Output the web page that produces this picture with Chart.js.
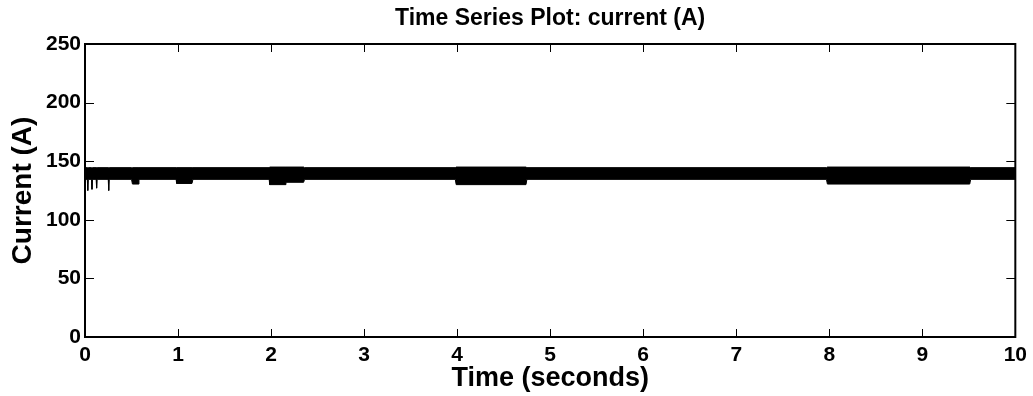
<!DOCTYPE html>
<html>
<head>
<meta charset="utf-8">
<script src="https://cdn.jsdelivr.net/npm/chart.js@4.4.1/dist/chart.umd.min.js"></script>
<style>
  html, body { margin: 0; padding: 0; background: #fff; }
  #wrap { width: 1033px; height: 396px; }
</style>
</head>
<body>
<div id="wrap"><canvas id="c" width="1033" height="396"></canvas></div>
<script>
// Envelope of the (dense) current signal
const time  = [0, 0.025, 0.03, 0.035, 0.07, 0.075, 0.08, 0.12, 0.125, 0.13, 0.25, 0.255, 0.26,
               0.50, 0.51, 0.57, 0.58, 0.98, 0.985, 1.15, 1.16,
               1.98, 1.985, 2.15, 2.16, 2.35, 2.36,
               3.98, 3.99, 4.74, 4.75, 7.97, 7.98, 9.51, 9.52, 10];
const lower = [134.5, 134.5, 125, 134.5, 134.5, 126, 134.5, 134.5, 127, 134.5, 134.5, 125, 134.5,
               134.5, 130.5, 130.5, 134.5, 134.5, 131, 131, 134.5,
               134.5, 130, 130, 132, 132, 134.5,
               134.5, 130, 130, 134.5, 134.5, 130.5, 130.5, 134.5, 134.5];
const upper = [144.5, 144.5, 144.5, 144.5, 144.5, 144.5, 144.5, 144.5, 144.5, 144.5, 144.5, 144.5, 144.5,
               144.5, 144.5, 144.5, 144.5, 144.5, 144.5, 144.5, 144.5,
               144.5, 145, 145, 145, 145, 144.5,
               144.5, 145, 145, 144.5, 144.5, 145, 145, 144.5, 144.5];
const xTicks = [0, 1, 2, 3, 4, 5, 6, 7, 8, 9, 10];
const yTicks = [0, 50, 100, 150, 200, 250];

const FONT = "'Liberation Sans', Arial, Helvetica, sans-serif";

const toPts = (ys) => time.map((t, i) => ({ x: t, y: ys[i] }));

const boxTicks = {
  id: 'boxTicks',
  afterDatasetsDraw(chart) {
    const { ctx, chartArea: a, scales } = chart;
    ctx.save();
    ctx.strokeStyle = '#000';
    ctx.lineWidth = 1;
    ctx.beginPath();
    xTicks.forEach(v => {
      const px = Math.round(scales.x.getPixelForValue(v)) + 0.5;
      ctx.moveTo(px, a.bottom); ctx.lineTo(px, a.bottom - 8);
      ctx.moveTo(px, a.top); ctx.lineTo(px, a.top + 8);
    });
    yTicks.forEach(v => {
      const py = Math.round(scales.y.getPixelForValue(v)) + 0.5;
      ctx.moveTo(a.left, py); ctx.lineTo(a.left + 9, py);
      ctx.moveTo(a.right, py); ctx.lineTo(a.right - 9, py);
    });
    ctx.stroke();
    ctx.lineWidth = 2;
    ctx.strokeRect(a.left, a.top, a.right - a.left, a.bottom - a.top);
    ctx.restore();
  }
};

new Chart(document.getElementById('c'), {
  type: 'line',
  data: {
    datasets: [
      { data: toPts(upper), borderColor: '#000', borderWidth: 1, pointRadius: 0, fill: false, tension: 0 },
      { data: toPts(lower), borderColor: '#000', borderWidth: 1, pointRadius: 0, fill: '-1',
        backgroundColor: '#000', tension: 0 }
    ]
  },
  options: {
    responsive: false,
    animation: false,
    layout: { padding: { left: 0, right: 14, top: 0, bottom: 0 } },
    plugins: {
      legend: { display: false },
      tooltip: { enabled: false },
      title: {
        display: true,
        fullSize: false,
        text: 'Time Series Plot: current (A)',
        color: '#000',
        font: { family: FONT, size: 23, weight: 'bold', lineHeight: 1.2 },
        padding: { top: 5, bottom: 11.4 }
      }
    },
    scales: {
      x: {
        type: 'linear',
        min: 0, max: 10,
        afterBuildTicks: s => { s.ticks = xTicks.map(v => ({ value: v })); },
        afterFit: s => { s.height = 59; },
        grid: { display: false, drawTicks: false },
        border: { display: false },
        ticks: { color: '#000', padding: 6, maxRotation: 0, autoSkip: false,
                 font: { family: FONT, size: 21, weight: 'bold' } },
        title: { display: true, text: 'Time (seconds)', color: '#000',
                 font: { family: FONT, size: 27, weight: 'bold', lineHeight: 1.2 },
                 padding: { top: 0, bottom: 1 } }
      },
      y: {
        min: 0, max: 250,
        afterBuildTicks: s => { s.ticks = yTicks.map(v => ({ value: v })); },
        afterFit: s => { s.width = 85; },
        grid: { display: false, drawTicks: false },
        border: { display: false },
        ticks: { color: '#000', padding: 4, autoSkip: false,
                 font: { family: FONT, size: 21, weight: 'bold' } },
        title: { display: true, text: 'Current (A)', color: '#000',
                 font: { family: FONT, size: 28, weight: 'bold', lineHeight: 1.2 },
                 padding: { top: 6, bottom: 0 } }
      }
    }
  },
  plugins: [boxTicks]
});
</script>
</body>
</html>
